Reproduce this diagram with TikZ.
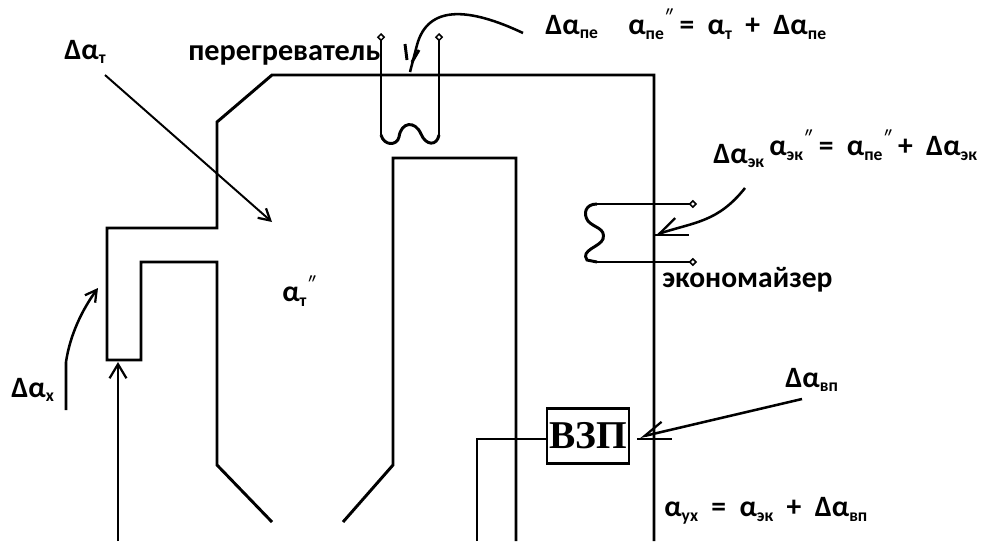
\documentclass[tikz,border=0pt]{standalone}
\usepackage{fontspec}
\setmainfont{Carlito}
\newfontfamily\boxfont{Liberation Serif}
\usepackage{tikz}
\usetikzlibrary{arrows.meta}
\newcommand{\subt}[1]{\raisebox{-3.2pt}{\fontsize{12.5pt}{13pt}\selectfont #1}}
\newcommand{\al}[1]{α\subt{#1}}
\newcommand{\dal}[1]{Δα\subt{#1}}
\newcommand{\pr}{\textsuperscript{\itshape\mdseries ″}}
\tikzset{
	wall/.style={draw, line width=2.1pt},
	lead/.style={draw, line width=1.8pt},
	diamond mark/.style={-{Diamond[open,length=6pt,width=6pt,line width=1.1pt]}},
	barb/.style={-{Straight Barb[length=8pt,width=9pt,line width=1.6pt]}},
	half barb/.style={-{Straight Barb[right,length=14pt,width=14pt,line width=1.6pt]}},
	lbl/.style={anchor=west, inner sep=0pt, font=\bfseries\fontsize{21pt}{23pt}\selectfont}
}
\begin{document}
\begin{tikzpicture}[x=0.025cm,y=-0.025cm]
	\useasboundingbox (0,0) rectangle (984,541);

	\begin{scope}[every node/.style={lbl}]
		\node (dt) at (64,52) {\dal{т}};
		\node[font=\bfseries\fontsize{21.5pt}{23pt}\selectfont] (per) at (188,55) {перегреватель};
		\node (dpe) at (545,27) {\dal{пе}};
		\node (ape) at (628,24) {\al{пе}\pr\ = \ \al{т} \ + \ \dal{пе}};
		\node (dek) at (713,156) {\dal{эк}};
		\node (aek) at (769,145) {\al{эк}\pr\ = \ \al{пе}\pr\ + \ \dal{эк}};
		\node (eko) at (662,280) {экономайзер};
		\node (at) at (282,291) {\al{т}\pr};
		\node (dx) at (11,390) {\dal{х}};
		\node (dvp) at (785,380) {\dal{вп}};
		\node (auh) at (664,511) {\al{ух} \ = \ \al{эк} \ + \ \dal{вп}};
	\end{scope}

	\node[draw, line width=2pt, minimum width=2.05cm, minimum height=1.38cm, inner sep=0pt,
		font=\boxfont\bfseries\fontsize{28pt}{28pt}\selectfont] (vzp) at (588,436) {\raisebox{-1.5pt}{ВЗП}};

	% furnace and gas duct
	\draw[wall] (272,522) -- (217,465) -- (217,262) -- (141,262) -- (141,360) -- (107,360)
		-- (107,228) -- (217,228) -- (217,122) -- (272,75) -- (654,75) -- (654,541);
	\draw[wall] (343,522) -- (393,465) -- (393,158) -- (516,158) -- (516,541);

	% superheater
	\coordinate (pe1) at (381,33);
	\coordinate (pe2) at (439,33);
	\draw[wall,diamond mark] (381,135) -- (pe1);
	\draw[wall,diamond mark] (439,135) -- (pe2);
	\draw[wall] (381,135) .. controls (384,146) and (397,146) .. (399,137)
		.. controls (401,122) and (415,120) .. (421,134)
		.. controls (426,146) and (437,146) .. (439,135);

	% economizer
	\coordinate (ek1) at (697,204);
	\coordinate (ek2) at (697,262);
	\draw[wall,diamond mark] (597,204) -- (ek1);
	\draw[wall,diamond mark] (597,262) -- (ek2);
	\draw[wall] (597,204) .. controls (585,204) and (583,214) .. (588,221)
		.. controls (594,228) and (606,228) .. (603,239)
		.. controls (600,247) and (580,250) .. (587,260) -- (597,262);

	% air inlet
	\coordinate (in1) at (118,541);
	\coordinate (in2) at (118,362);
	\draw[wall,-{Straight Barb[length=10pt,width=12pt,line width=1.6pt]}] (in1) -- (in2);
	\draw[wall] (477,541) -- (477,439) -- (vzp.west |- 0,439);

	% air suction
	\coordinate (dts) at (105,75);
	\coordinate (dte) at (272,222);
	\draw[lead,line width=1.4pt,barb] (dts) -- (dte);

	\coordinate (dps) at (523,33);
	\coordinate (dpe2) at (410,72);
	\draw[lead] (dps) .. controls (470,8) and (428,4) .. (417,45) -- (dpe2);
	\draw[wall] (405,44) -- (407,60);
	\draw[wall] (419,50) -- (412,62);

	\coordinate (dks) at (745,188);
	\coordinate (dke) at (655,235);
	\draw[lead,half barb] (dks) .. controls (718,222) and (695,222) .. (dke);
	\draw[wall] (dke) -- (689,235);

	\coordinate (dxs) at (66,410);
	\coordinate (dxe) at (98,288);
	\draw[lead,barb] (dxs) -- (66,362) .. controls (70,335) and (82,310) .. (dxe);

	\coordinate (dvs) at (802,399);
	\coordinate (dve) at (640,437);
	\draw[lead,half barb] (dvs) -- (dve);
	\draw[wall] (637,439) -- (672,439);
\end{tikzpicture}
\end{document}
